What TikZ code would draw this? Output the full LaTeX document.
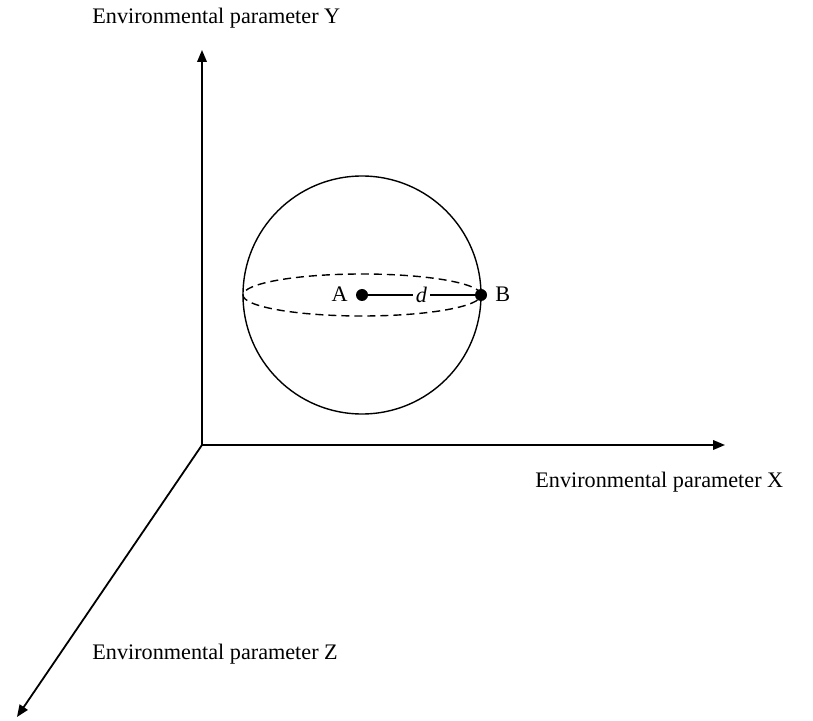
\documentclass[tikz,border=0pt]{standalone}
\usepackage{fontspec}
\setmainfont{Liberation Serif}
\usetikzlibrary{arrows.meta}

\begin{document}
\begin{tikzpicture}[
    x=0.5pt, y=-0.5pt,
    axis/.style={line width=0.9pt, -{Triangle[length=6pt, width=4.8pt]}},
    lbl/.style={font=\fontsize{11.1}{13}\selectfont, inner sep=0pt},
    pt/.style={circle, fill=black, minimum size=6pt, inner sep=0pt}
  ]
    \useasboundingbox (0,0) rectangle (813,721);

    % --- axes ---
    \coordinate (O)  at (202, 445);
    \coordinate (yt) at (202, 50);
    \coordinate (xt) at (725, 445);
    \coordinate (zt) at (17, 717);
    \draw[axis] (O) -- (yt);
    \draw[axis] (O) -- (xt);
    \draw[axis] (O) -- (zt);
    \node[lbl, anchor=west] (ly) at (92, 18)  {Environmental parameter Y};
    \node[lbl, anchor=west] (lx) at (535, 482) {Environmental parameter X};
    \node[lbl, anchor=west] (lz) at (92, 654) {Environmental parameter Z};

    % --- sphere ---
    \coordinate (c) at (362, 295);
    \draw[line width=0.7pt] (c) circle [radius=59.5pt];
    \draw[line width=0.7pt, dash pattern=on 4pt off 2.5pt] (c) ellipse [x radius=59.5pt, y radius=10.5pt];

    \node[pt] (A) at (362, 295) {};
    \node[pt] (B) at (481, 295) {};
    \draw[line width=1pt] (A) -- node[lbl, fill=white, inner xsep=1.5pt, font=\fontsize{11.1}{13}\selectfont\itshape] (d) {d} (B);
    \node[lbl, anchor=east] (la) at (348, 294) {A};
    \node[lbl, anchor=west] (lb) at (495, 294) {B};
  \end{tikzpicture}
\end{document}
